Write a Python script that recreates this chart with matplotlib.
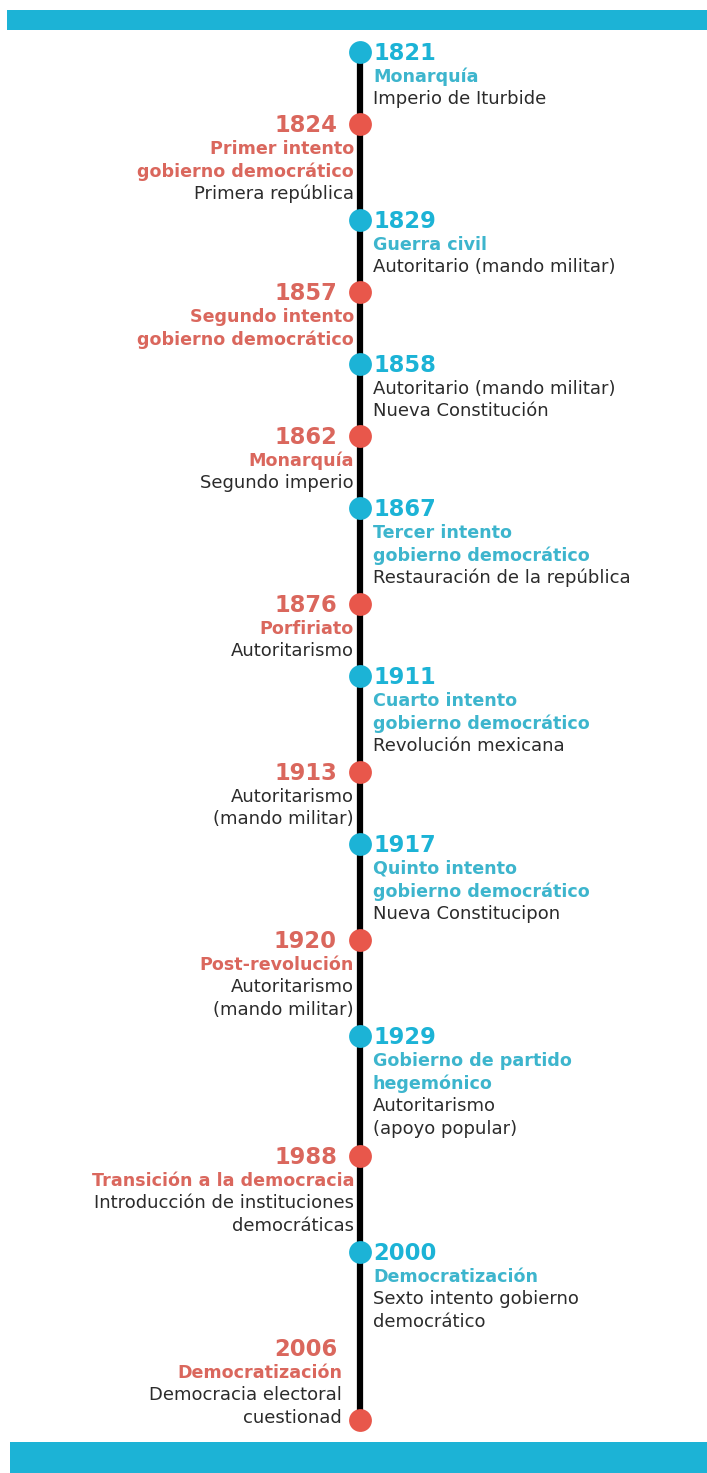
import matplotlib
matplotlib.use("Agg")
import matplotlib.pyplot as plt
from matplotlib.patches import Rectangle

# reference text is wide, DejaVu Sans matches its proportions best
plt.rcParams['font.family'] = ['DejaVu Sans']

# timeline data (top to bottom)
years = ["1821", "1824", "1829", "1857", "1858", "1862", "1867", "1876",
         "1911", "1913", "1917", "1920", "1929", "1988", "2000", "2006"]
categories = [
    ["Monarquía"],
    ["Primer intento", "gobierno democrático"],
    ["Guerra civil"],
    ["Segundo intento", "gobierno democrático"],
    [],
    ["Monarquía"],
    ["Tercer intento", "gobierno democrático"],
    ["Porfiriato"],
    ["Cuarto intento", "gobierno democrático"],
    [],
    ["Quinto intento", "gobierno democrático"],
    ["Post-revolución"],
    ["Gobierno de partido", "hegemónico"],
    ["Transición a la democracia"],
    ["Democratización"],
    ["Democratización"],
]
descriptions = [
    ["Imperio de Iturbide"],
    ["Primera república"],
    ["Autoritario (mando militar)"],
    [],
    ["Autoritario (mando militar)", "Nueva Constitución"],
    ["Segundo imperio"],
    ["Restauración de la república"],
    ["Autoritarismo"],
    ["Revolución mexicana"],
    ["Autoritarismo", "(mando militar)"],
    ["Nueva Constitucipon"],
    ["Autoritarismo", "(mando militar)"],
    ["Autoritarismo", "(apoyo popular)"],
    ["Introducción de instituciones", "democráticas"],
    ["Sexto intento gobierno", "democrático"],
    ["Democracia electoral", "cuestionad"],
]

BLUE = "#1cb3d6"
BLUE_TXT = "#3db5cd"
RED = "#e8574b"
RED_TXT = "#da675d"
DARK = "#2b2b2b"

W, H = 707, 1473
fig = plt.figure(figsize=(W / 100, H / 100), dpi=100)
ax = fig.add_axes([0, 0, 1, 1])
ax.set_xlim(0, W)
ax.set_ylim(H, 0)
ax.axis('off')

# header / footer bands
ax.add_patch(Rectangle((7, 10), W - 7, 20, color=BLUE, lw=0))
ax.add_patch(Rectangle((10, 1442), W - 10, 31, color=BLUE, lw=0))

x_line = 360
top = 52
step = 24.0      # vertical pitch per text line between dots
pitch = 22.8     # line spacing inside an entry

# dot positions follow the amount of text in each entry
dot_y = []
y = top
for c, d in zip(categories, descriptions):
    dot_y.append(y)
    y += step * (1 + len(c) + len(d))
# last entry: text ends at the bottom dot
last_lines = 1 + len(categories[-1]) + len(descriptions[-1])
text_y = list(dot_y)
dot_y[-1] = text_y[-1] + pitch * (last_lines - 1) + 4

ax.plot([x_line, x_line], [dot_y[0], dot_y[-1]], color="black", lw=4.5,
        solid_capstyle='butt', zorder=1)

n = len(years)
for i, yr in enumerate(years):
    right = (i % 2 == 0)
    col = BLUE if right else RED
    tcol = BLUE_TXT if right else RED_TXT
    ax.scatter([x_line], [dot_y[i]], s=270, color=col, zorder=3, lw=0)
    y0 = text_y[i]
    if right:
        ax.text(373, y0 + 1, yr, color=col, fontsize=16.3, fontweight='bold',
                ha='left', va='center')
        xt, ha = 373, 'left'
    else:
        ax.text(337, y0 + 1, yr, color=tcol, fontsize=16.3, fontweight='bold',
                ha='right', va='center')
        # final entry sits next to the end dot, so pull it away from the line
        xt, ha = (342 if i == n - 1 else 354), 'right'
    yy = y0 + 24.5
    for c in categories[i]:
        ax.text(xt, yy, c, color=tcol, fontsize=12.6, fontweight='bold',
                ha=ha, va='center')
        yy += pitch
    for d in descriptions[i]:
        ax.text(xt, yy, d, color=DARK, fontsize=13, ha=ha, va='center')
        yy += pitch

fig.savefig("out.png", dpi=100, facecolor="white")
